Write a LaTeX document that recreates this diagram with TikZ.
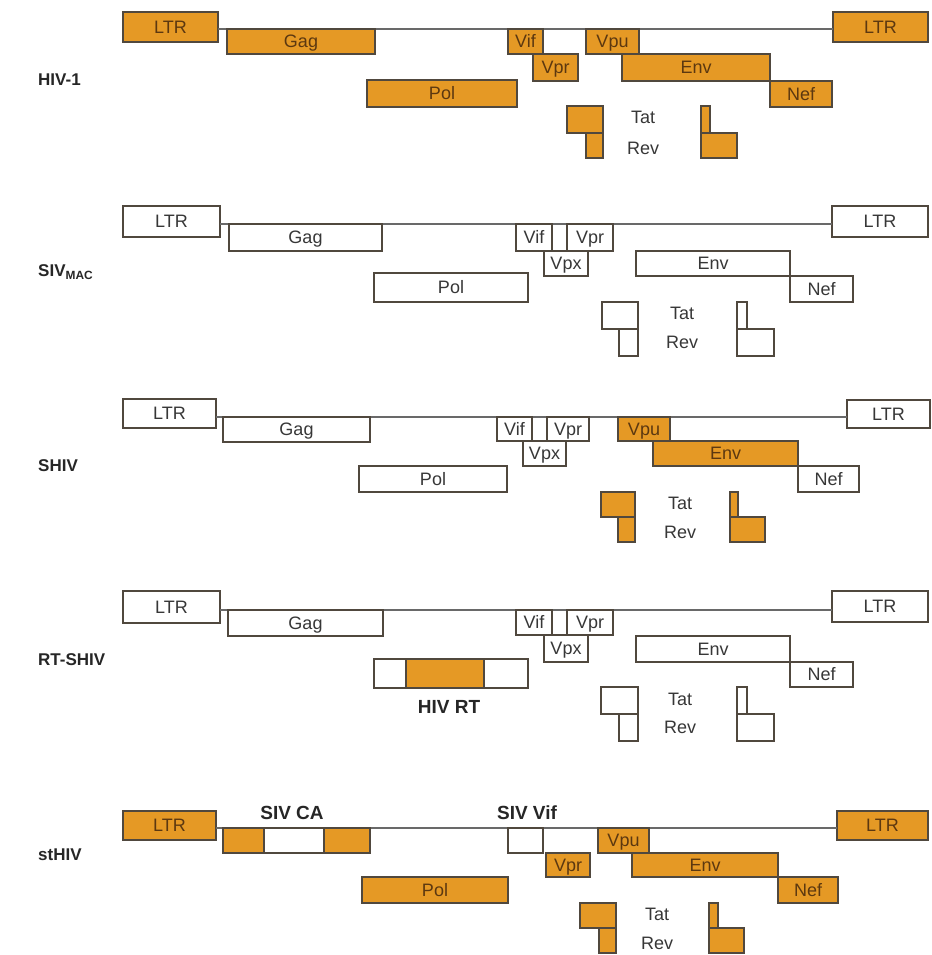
\documentclass[tikz,border=0pt]{standalone}
\usepackage{fontspec}
\setmainfont{Liberation Sans}
\definecolor{orng}{RGB}{229,153,37}
\definecolor{bordc}{RGB}{80,72,62}
\definecolor{brn}{RGB}{92,56,16}
\definecolor{txtc}{RGB}{55,55,55}
\definecolor{linec}{RGB}{105,105,105}
\newcommand{\gb}[7]{\node[#6, minimum width={(#4-#2)*1pt}, minimum height={(#5-#3)*1pt}] (#1) at ({(#2+#4)/2},{(#3+#5)/2}) {#7};}
\tikzset{
  gbase/.style={draw=bordc, line width=1.3pt, inner sep=0pt, outer sep=0pt,
    font=\fontsize{18}{18}\selectfont, text height=12.9pt, text depth=0pt},
  ob/.style={gbase, fill=orng, text=brn},
  wb/.style={gbase, fill=white, text=txtc},
  genome/.style={draw=linec, line width=1.3pt},
  lbl/.style={inner sep=0pt, text=txtc, font=\fontsize{18}{18}\selectfont},
  rowlbl/.style={inner sep=0pt, anchor=west, text=black!85, font=\fontsize{17}{17}\selectfont\bfseries},
  boldlbl/.style={inner sep=0pt, text=black!85, font=\fontsize{19}{19}\selectfont\bfseries}
}
\begin{document}
\begin{tikzpicture}[x=1pt,y=-1pt]
\path[fill=white] (0,0) rectangle (931,955);
\useasboundingbox (0,0) rectangle (931,955);

% ---------------- Row 1: HIV-1 ----------------
\node[rowlbl] (lab1) at (38,80) {HIV-1};
\gb{ltrLa}{123}{12}{218}{42}{ob}{LTR}
\gb{ltrRa}{833}{12}{928}{42}{ob}{LTR}
\coordinate (lineLa) at (218,29);
\coordinate (lineRa) at (833,29);
\draw[genome] (lineLa) -- (lineRa);
\gb{gaga}{227}{29}{375}{54}{ob}{Gag}
\gb{pola}{367}{80}{517}{107}{ob}{Pol}
\gb{vifa}{508}{29}{543}{54}{ob}{Vif}
\gb{vpra}{533}{54}{578}{81}{ob}{Vpr}
\gb{vpua}{586}{29}{639}{54}{ob}{Vpu}
\gb{enva}{622}{54}{770}{81}{ob}{Env}
\gb{nefa}{770}{81}{832}{107}{ob}{Nef}
\gb{tatLa}{567}{106}{603}{133}{ob}{}
\gb{revLa}{586}{133}{603}{158}{ob}{}
\gb{tatRa}{701}{106}{710}{133}{ob}{}
\gb{revRa}{701}{133}{737}{158}{ob}{}
\node[lbl] (tata) at (643,117) {Tat};
\node[lbl] (reva) at (643,148) {Rev};

% ---------------- Row 2: SIV MAC ----------------
\node[rowlbl] (lab2) at (38,272) {SIV\textsubscript{MAC}};
\gb{ltrLb}{123}{206}{220}{237}{wb}{LTR}
\gb{ltrRb}{832}{206}{928}{237}{wb}{LTR}
\coordinate (lineLb) at (220,224);
\coordinate (lineRb) at (832,224);
\draw[genome] (lineLb) -- (lineRb);
\gb{gagb}{229}{224}{382}{251}{wb}{Gag}
\gb{polb}{374}{273}{528}{302}{wb}{Pol}
\gb{vifb}{516}{224}{552}{251}{wb}{Vif}
\gb{vprb}{567}{224}{613}{251}{wb}{Vpr}
\gb{vpxb}{544}{251}{588}{276}{wb}{Vpx}
\gb{envb}{636}{251}{790}{276}{wb}{Env}
\gb{nefb}{790}{276}{853}{302}{wb}{Nef}
\gb{tatLb}{602}{302}{638}{329}{wb}{}
\gb{revLb}{619}{329}{638}{356}{wb}{}
\gb{tatRb}{737}{302}{747}{329}{wb}{}
\gb{revRb}{737}{329}{774}{356}{wb}{}
\node[lbl] (tatb) at (682,313) {Tat};
\node[lbl] (revb) at (682,342) {Rev};

% ---------------- Row 3: SHIV ----------------
\node[rowlbl] (lab3) at (38,466) {SHIV};
\gb{ltrLc}{123}{399}{216}{428}{wb}{LTR}
\gb{ltrRc}{847}{400}{930}{428}{wb}{LTR}
\coordinate (lineLc) at (216,417);
\coordinate (lineRc) at (847,417);
\draw[genome] (lineLc) -- (lineRc);
\gb{gagc}{223}{417}{370}{442}{wb}{Gag}
\gb{polc}{359}{466}{507}{492}{wb}{Pol}
\gb{vifc}{497}{417}{532}{441}{wb}{Vif}
\gb{vprc}{547}{417}{589}{441}{wb}{Vpr}
\gb{vpxc}{523}{441}{566}{466}{wb}{Vpx}
\gb{vpuc}{618}{417}{670}{441}{ob}{Vpu}
\gb{envc}{653}{441}{798}{466}{ob}{Env}
\gb{nefc}{798}{466}{859}{492}{wb}{Nef}
\gb{tatLc}{601}{492}{635}{517}{ob}{}
\gb{revLc}{618}{517}{635}{542}{ob}{}
\gb{tatRc}{730}{492}{738}{517}{ob}{}
\gb{revRc}{730}{517}{765}{542}{ob}{}
\node[lbl] (tatc) at (680,503) {Tat};
\node[lbl] (revc) at (680,532) {Rev};

% ---------------- Row 4: RT-SHIV ----------------
\node[rowlbl] (lab4) at (38,660) {RT-SHIV};
\gb{ltrLd}{123}{591}{220}{623}{wb}{LTR}
\gb{ltrRd}{832}{591}{928}{622}{wb}{LTR}
\coordinate (lineLd) at (220,610);
\coordinate (lineRd) at (832,610);
\draw[genome] (lineLd) -- (lineRd);
\gb{gagd}{228}{610}{383}{636}{wb}{Gag}
\gb{pold}{374}{659}{528}{688}{wb}{}
\gb{rtd}{406}{659}{484}{688}{ob}{}
\node[boldlbl] (rtlbl) at (449,707) {HIV RT};
\gb{vifd}{516}{610}{552}{635}{wb}{Vif}
\gb{vprd}{567}{610}{613}{635}{wb}{Vpr}
\gb{vpxd}{544}{635}{588}{662}{wb}{Vpx}
\gb{envd}{636}{636}{790}{662}{wb}{Env}
\gb{nefd}{790}{662}{853}{687}{wb}{Nef}
\gb{tatLd}{601}{687}{638}{714}{wb}{}
\gb{revLd}{619}{714}{638}{741}{wb}{}
\gb{tatRd}{737}{687}{747}{714}{wb}{}
\gb{revRd}{737}{714}{774}{741}{wb}{}
\node[lbl] (tatd) at (680,699) {Tat};
\node[lbl] (revd) at (680,727) {Rev};

% ---------------- Row 5: stHIV ----------------
\node[rowlbl] (lab5) at (38,855) {stHIV};
\gb{ltrLe}{123}{811}{216}{840}{ob}{LTR}
\gb{ltrRe}{837}{811}{928}{840}{ob}{LTR}
\coordinate (lineLe) at (216,828);
\coordinate (lineRe) at (837,828);
\draw[genome] (lineLe) -- (lineRe);
\gb{gagMe}{264}{828}{324}{853}{wb}{}
\gb{gagLe}{223}{828}{264}{853}{ob}{}
\gb{gagRe}{324}{828}{370}{853}{ob}{}
\node[boldlbl] (calbl) at (292,813) {SIV CA};
\gb{pole}{362}{877}{508}{903}{ob}{Pol}
\node[boldlbl] (viflbl) at (527,813) {SIV Vif};
\gb{vife}{508}{828}{543}{853}{wb}{}
\gb{vpre}{546}{853}{590}{877}{ob}{Vpr}
\gb{vpue}{598}{828}{649}{853}{ob}{Vpu}
\gb{enve}{632}{853}{778}{877}{ob}{Env}
\gb{nefe}{778}{877}{838}{903}{ob}{Nef}
\gb{tatLe}{580}{903}{616}{928}{ob}{}
\gb{revLe}{599}{928}{616}{953}{ob}{}
\gb{tatRe}{709}{903}{718}{928}{ob}{}
\gb{revRe}{709}{928}{744}{953}{ob}{}
\node[lbl] (tate) at (657,914) {Tat};
\node[lbl] (reve) at (657,943) {Rev};
\end{tikzpicture}
\end{document}
